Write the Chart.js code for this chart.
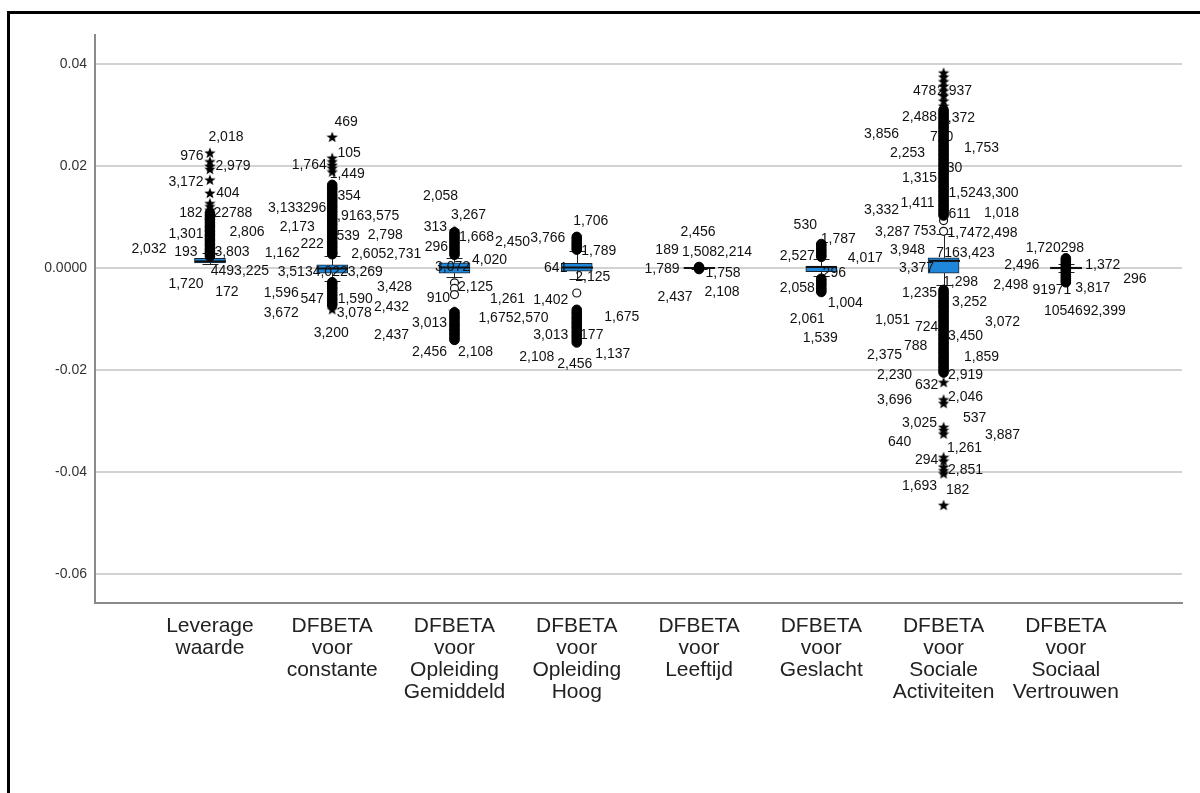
<!DOCTYPE html>
<html>
<head>
<meta charset="utf-8">
<script src="https://cdn.jsdelivr.net/npm/chart.js@4.4.1/dist/chart.umd.min.js"></script>
<style>
  html, body { margin: 0; padding: 0; background: #fff; }
  #wrap { position: relative; width: 1200px; height: 793px; overflow: hidden; }
  #wrap canvas { position: absolute; left: 0; top: 0; }
  #frame { position: absolute; left: 7px; top: 11px; right: 0; bottom: 0;
           border-left: 3px solid #000; border-top: 3px solid #000; pointer-events: none; }
</style>
</head>
<body>
<div id="wrap">
  <canvas id="chart" width="1200" height="793"></canvas>
  <div id="frame"></div>
</div>
<script>
// Variables shown along the x axis (one box per variable)
const categories = [
  ["Leverage", "waarde"],
  ["DFBETA", "voor", "constante"],
  ["DFBETA", "voor", "Opleiding", "Gemiddeld"],
  ["DFBETA", "voor", "Opleiding", "Hoog"],
  ["DFBETA", "voor", "Leeftijd"],
  ["DFBETA", "voor", "Geslacht"],
  ["DFBETA", "voor", "Sociale", "Activiteiten"],
  ["DFBETA", "voor", "Sociaal", "Vertrouwen"]
];

const yTicks = [-0.06, -0.04, -0.02, 0, 0.02, 0.04];

// Box statistics per variable
const q1          = [0.0010, -0.0010, -0.0010, -0.0006, -0.0001, -0.0007, -0.0010, -0.0002];
const median      = [0.0013, -0.0001,  0.0001,  0.0001,  0.0000,  0.0002,  0.0014,  0.0000];
const q3          = [0.0019,  0.0006,  0.0010,  0.0009,  0.0001,  0.0004,  0.0020,  0.0002];
const whiskerLow  = [0.0007, -0.0026, -0.0018, -0.0021, -0.0002, -0.0015, -0.0033, -0.0008];
const whiskerHigh = [0.0030,  0.0024,  0.0020,  0.0033,  0.0002,  0.0017,  0.0066,  0.0008];

// Extreme cases (drawn as stars)
const extremes = [
  [0.0226, 0.0209, 0.0200, 0.0194, 0.0173, 0.0147, 0.0127, 0.0121, 0.0114],
  [0.0257, 0.0216, 0.0209, 0.0202, 0.0196, 0.0189, -0.0081],
  [0.0073, -0.0085],
  [],
  [],
  [],
  [0.0383, 0.0375, 0.0366, 0.0357, 0.0348, 0.0338, 0.0328, 0.0318,
   -0.0224, -0.0258, -0.0265, -0.0312, -0.0318, -0.0325, -0.0371, -0.0378,
   -0.0390, -0.0397, -0.0403, -0.0465],
  []
];

// Isolated outliers (drawn as open circles)
const outliers = [
  [],
  [],
  [-0.0029, -0.0040, -0.0052],
  [-0.0049],
  [],
  [],
  [0.0093, 0.0072],
  []
];

// Tightly packed outlying cases that merge into solid runs
const packedCases = [
  [0.0108, 0.0103, 0.0098, 0.0094, 0.0089, 0.0084, 0.0080, 0.0075, 0.0071, 0.0066,
   0.0062, 0.0057, 0.0053, 0.0048, 0.0044, 0.0039, 0.0035, 0.0031, 0.0027, 0.0023],
  [0.0163, 0.0158, 0.0154, 0.0149, 0.0144, 0.0140, 0.0135, 0.0131, 0.0126, 0.0121,
   0.0117, 0.0112, 0.0108, 0.0103, 0.0098, 0.0094, 0.0089, 0.0085, 0.0080, 0.0075,
   0.0071, 0.0066, 0.0062, 0.0057, 0.0052, 0.0048, 0.0043, 0.0039, 0.0034, 0.0030, 0.0027,
   -0.0028, -0.0032, -0.0037, -0.0041, -0.0046, -0.0051, -0.0055, -0.0060, -0.0064, -0.0069, -0.0073],
  [0.0070, 0.0066, 0.0061, 0.0057, 0.0052, 0.0048, 0.0043, 0.0039, 0.0034, 0.0030, 0.0026,
   -0.0087, -0.0091, -0.0096, -0.0100, -0.0105, -0.0110, -0.0114, -0.0119, -0.0123,
   -0.0128, -0.0132, -0.0137, -0.0141],
  [0.0061, 0.0057, 0.0052, 0.0048, 0.0044, 0.0040, 0.0036,
   -0.0082, -0.0087, -0.0091, -0.0096, -0.0100, -0.0105, -0.0109, -0.0114, -0.0118,
   -0.0123, -0.0127, -0.0132, -0.0136, -0.0141, -0.0146],
  [0.0002, 0.0000, -0.0002],
  [0.0047, 0.0043, 0.0038, 0.0034, 0.0030, 0.0025, 0.0022,
   -0.0021, -0.0025, -0.0030, -0.0034, -0.0039, -0.0043, -0.0047],
  [0.0310, 0.0305, 0.0301, 0.0296, 0.0292, 0.0287, 0.0283, 0.0278, 0.0274, 0.0269,
   0.0265, 0.0260, 0.0256, 0.0251, 0.0247, 0.0242, 0.0238, 0.0233, 0.0229, 0.0224,
   0.0220, 0.0215, 0.0211, 0.0206, 0.0202, 0.0197, 0.0193, 0.0188, 0.0184, 0.0179,
   0.0175, 0.0170, 0.0166, 0.0161, 0.0157, 0.0152, 0.0148, 0.0143, 0.0139, 0.0134,
   0.0130, 0.0125, 0.0121, 0.0116, 0.0112, 0.0107, 0.0103,
   -0.0043, -0.0048, -0.0052, -0.0057, -0.0061, -0.0066, -0.0070, -0.0075, -0.0079,
   -0.0084, -0.0088, -0.0093, -0.0097, -0.0102, -0.0106, -0.0111, -0.0115, -0.0120,
   -0.0124, -0.0129, -0.0133, -0.0138, -0.0142, -0.0147, -0.0151, -0.0156, -0.0160,
   -0.0165, -0.0169, -0.0174, -0.0178, -0.0183, -0.0187, -0.0192, -0.0196, -0.0201, -0.0205],
  [0.0019, 0.0015, 0.0011, 0.0007, 0.0003, -0.0001, -0.0005, -0.0009, -0.0013,
   -0.0017, -0.0021, -0.0025, -0.0028]
];

// Case-number labels: [variable, text, value where the label sits, horizontal shift in px]
const caseLabels = [
  [1, "2,018", 0.0257, 16], [1, "976", 0.0220, -18], [1, "2,979", 0.0200, 23],
  [1, "3,172", 0.0169, -24], [1, "404", 0.0147, 18], [1, "182", 0.0108, -19],
  [1, "22788", 0.0108, 23], [1, "1,301", 0.0067, -24], [1, "2,806", 0.0071, 37],
  [1, "2,032", 0.0037, -61], [1, "193", 0.0031, -24], [1, "3,803", 0.0031, 22],
  [1, "4493,225", -0.0006, 30], [1, "1,720", -0.0031, -24], [1, "172", -0.0047, 17],

  [2, "469", 0.0286, 14], [2, "105", 0.0225, 17], [2, "1,764", 0.0202, -23],
  [2, "1,449", 0.0184, 15], [2, "354", 0.0141, 17], [2, "3,133296", 0.0118, -35],
  [2, ",9163,575", 0.0102, 36], [2, "2,173", 0.0080, -35], [2, "539", 0.0063, 16],
  [2, "2,798", 0.0065, 53], [2, "1,162", 0.0029, -50], [2, "222", 0.0047, -20],
  [2, "2,6052,731", 0.0027, 54], [2, "3,5134,0223,269", -0.0008, -2],
  [2, "1,596", -0.0049, -51], [2, "547", -0.0061, -20], [2, "1,590", -0.0061, 23],
  [2, "3,672", -0.0088, -51], [2, "3,078", -0.0088, 22], [2, "3,200", -0.0127, -1],

  [3, "2,058", 0.0141, -14], [3, "3,267", 0.0104, 14], [3, "313", 0.0080, -19],
  [3, "1,668", 0.0061, 22], [3, "2,450", 0.0051, 58], [3, "296", 0.0041, -18],
  [3, "4,020", 0.0016, 35], [3, "3,072", 0.0002, -2], [3, "2,125", -0.0037, 21],
  [3, "910", -0.0059, -16], [3, "3,428", -0.0037, -60], [3, "2,432", -0.0076, -63],
  [3, "2,437", -0.0131, -63], [3, "3,013", -0.0108, -25], [3, "2,456", -0.0165, -25],
  [3, "2,108", -0.0165, 21], [3, "1,261", -0.0061, 53], [3, "1,6752,570", -0.0098, 59],

  [4, "3,766", 0.0059, -29], [4, "1,706", 0.0092, 14], [4, "1,789", 0.0033, 22],
  [4, "641", 0.0000, -21], [4, "2,125", -0.0018, 16], [4, "1,402", -0.0063, -26],
  [4, "1,675", -0.0096, 45], [4, "3,013", -0.0131, -26], [4, "177", -0.0131, 15],
  [4, "2,108", -0.0175, -40], [4, "2,456", -0.0188, -2], [4, "1,137", -0.0169, 36],

  [5, "2,456", 0.0071, -1], [5, "189", 0.0035, -32], [5, "1,5082,214", 0.0031, 18],
  [5, "1,789", -0.0002, -37], [5, "1,758", -0.0010, 24], [5, "2,437", -0.0057, -24],
  [5, "2,108", -0.0047, 23],

  [6, "530", 0.0084, -16], [6, "1,787", 0.0057, 17], [6, "2,527", 0.0024, -24],
  [6, "4,017", 0.0020, 44], [6, "296", -0.0010, 13], [6, "2,058", -0.0039, -24],
  [6, "1,004", -0.0069, 24], [6, "2,061", -0.0100, -14], [6, "1,539", -0.0137, -1],

  [7, "478", 0.0347, -19], [7, "2,937", 0.0347, 11], [7, "2,488", 0.0296, -24],
  [7, "1,372", 0.0294, 14], [7, "3,856", 0.0263, -62], [7, "720", 0.0257, -2],
  [7, "1,753", 0.0235, 38], [7, "2,253", 0.0225, -36], [7, "730", 0.0196, 7],
  [7, "1,315", 0.0176, -24], [7, "1,5243,300", 0.0147, 40], [7, "1,411", 0.0127, -26],
  [7, "3,332", 0.0114, -62], [7, "611", 0.0106, 16], [7, "1,018", 0.0108, 58],
  [7, "3,287", 0.0071, -51], [7, "753", 0.0073, -19], [7, "1,7472,498", 0.0069, 39],
  [7, "3,948", 0.0035, -36], [7, "7163,423", 0.0029, 22], [7, "3,377", 0.0000, -27],
  [7, "1,298", -0.0027, 17], [7, "1,235", -0.0049, -24], [7, "3,252", -0.0067, 26],
  [7, "1,051", -0.0102, -51], [7, "3,072", -0.0106, 59], [7, "724", -0.0116, -17],
  [7, "3,450", -0.0133, 22], [7, "788", -0.0153, -28], [7, "2,375", -0.0171, -59],
  [7, "1,859", -0.0175, 38], [7, "2,230", -0.0210, -49], [7, "2,919", -0.0210, 22],
  [7, "632", -0.0229, -17], [7, "3,696", -0.0259, -49], [7, "2,046", -0.0253, 22],
  [7, "537", -0.0294, 31], [7, "3,025", -0.0304, -24], [7, "3,887", -0.0327, 59],
  [7, "640", -0.0341, -44], [7, "1,261", -0.0353, 21], [7, "294", -0.0376, -17],
  [7, "2,851", -0.0396, 22], [7, "1,693", -0.0427, -24], [7, "182", -0.0435, 14],

  [8, "1,720298", 0.0039, -11], [8, "2,496", 0.0006, -44], [8, "1,372", 0.0006, 37],
  [8, "296", -0.0022, 69], [8, "2,498", -0.0033, -55], [8, "91971", -0.0043, -14],
  [8, "3,817", -0.0039, 27], [8, "1054692,399", -0.0084, 19]
];

const FONT = "Arial, 'Liberation Sans', sans-serif";
const BOX_WIDTH = 31;
const CAP_WIDTH = 16;

// Filled five-point star used for extreme cases
function makeStar(size) {
  const c = document.createElement("canvas");
  c.width = c.height = size;
  const g = c.getContext("2d");
  const cx = size / 2, cy = size / 2 + 0.5, R = size / 2, r = R * 0.42;
  g.beginPath();
  for (let i = 0; i < 10; i++) {
    const a = -Math.PI / 2 + i * Math.PI / 5;
    const rad = i % 2 ? r : R;
    g.lineTo(cx + rad * Math.cos(a), cy + rad * Math.sin(a));
  }
  g.closePath();
  g.fillStyle = "#000";
  g.fill();
  return c;
}

const toPoints = groups => groups.flatMap((vals, i) => vals.map(v => ({ x: i + 1, y: v })));

// Whiskers, medians and case labels, drawn right after the boxes so marks sit on top
const boxDecor = {
  id: "boxDecor",
  afterDatasetDraw(chart, args) {
    if (args.index !== 0) return;
    const { ctx, scales: { x, y } } = chart;
    ctx.save();
    ctx.strokeStyle = "#222";
    ctx.lineWidth = 1;
    for (let i = 0; i < categories.length; i++) {
      const cx = Math.round(x.getPixelForValue(i + 1)) + 0.5;
      const yq1 = y.getPixelForValue(q1[i]);
      const yq3 = y.getPixelForValue(q3[i]);
      const ylo = Math.round(y.getPixelForValue(whiskerLow[i])) + 0.5;
      const yhi = Math.round(y.getPixelForValue(whiskerHigh[i])) + 0.5;
      ctx.beginPath();
      ctx.moveTo(cx, yq3); ctx.lineTo(cx, yhi);
      ctx.moveTo(cx, yq1); ctx.lineTo(cx, ylo);
      ctx.moveTo(cx - CAP_WIDTH / 2, yhi); ctx.lineTo(cx + CAP_WIDTH / 2, yhi);
      ctx.moveTo(cx - CAP_WIDTH / 2, ylo); ctx.lineTo(cx + CAP_WIDTH / 2, ylo);
      ctx.stroke();
      const ym = y.getPixelForValue(median[i]);
      ctx.save();
      ctx.lineWidth = 2;
      ctx.strokeStyle = "#111";
      ctx.beginPath();
      ctx.moveTo(cx - BOX_WIDTH / 2, ym); ctx.lineTo(cx + BOX_WIDTH / 2, ym);
      ctx.stroke();
      ctx.restore();
    }
    ctx.fillStyle = "#111";
    ctx.font = "14px " + FONT;
    ctx.textAlign = "center";
    ctx.textBaseline = "middle";
    for (const [cat, text, val, dx] of caseLabels) {
      ctx.fillText(text, x.getPixelForValue(cat) + dx, y.getPixelForValue(val));
    }
    ctx.restore();
  }
};

new Chart(document.getElementById("chart"), {
  type: "bar",
  data: {
    datasets: [
      {
        type: "bar",
        order: 10,
        data: categories.map((_, i) => ({ x: i + 1, y: [q1[i], q3[i]] })),
        backgroundColor: "#1f86d9",
        borderColor: "#1c2630",
        borderWidth: 1,
        borderSkipped: false,
        barThickness: BOX_WIDTH,
        grouped: false
      },
      {
        type: "scatter",
        order: 0,
        data: toPoints(packedCases),
        pointStyle: "circle",
        pointRadius: 4.8,
        backgroundColor: "#000",
        borderColor: "#000",
        borderWidth: 1
      },
      {
        type: "scatter",
        order: 0,
        data: toPoints(outliers),
        pointStyle: "circle",
        pointRadius: 4,
        backgroundColor: "#fff",
        borderColor: "#111",
        borderWidth: 1.2
      },
      {
        type: "scatter",
        order: 0,
        data: toPoints(extremes),
        pointStyle: makeStar(12),
        pointRadius: 6
      }
    ]
  },
  options: {
    responsive: false,
    animation: false,
    devicePixelRatio: 1,
    layout: { padding: { top: 35, right: 18, left: 0, bottom: 0 } },
    plugins: { legend: { display: false }, tooltip: { enabled: false } },
    scales: {
      x: {
        type: "linear",
        min: 0.06,
        max: 8.95,
        offset: false,
        grid: { display: false, drawTicks: false },
        border: { display: true, color: "#8a8a8a", width: 2 },
        afterBuildTicks(scale) { scale.ticks = categories.map((_, i) => ({ value: i + 1 })); },
        afterFit(scale) { scale.height = 190; },
        ticks: {
          autoSkip: false,
          maxRotation: 0,
          padding: 12,
          color: "#222",
          font: { family: FONT, size: 21, lineHeight: 1.05 },
          callback: v => categories[v - 1]
        }
      },
      y: {
        type: "linear",
        min: -0.0657,
        max: 0.0457,
        grid: { color: "#d2d2d2", lineWidth: 2, drawTicks: false },
        border: { display: true, color: "#8a8a8a", width: 2 },
        afterBuildTicks(scale) { scale.ticks = yTicks.map(v => ({ value: v })); },
        afterFit(scale) { scale.width = 95; },
        ticks: {
          padding: 8,
          color: "#333",
          font: { family: FONT, size: 14 },
          callback: v => (v === 0 ? "0.0000" : v.toFixed(2))
        }
      }
    }
  },
  plugins: [boxDecor]
});
</script>
</body>
</html>
